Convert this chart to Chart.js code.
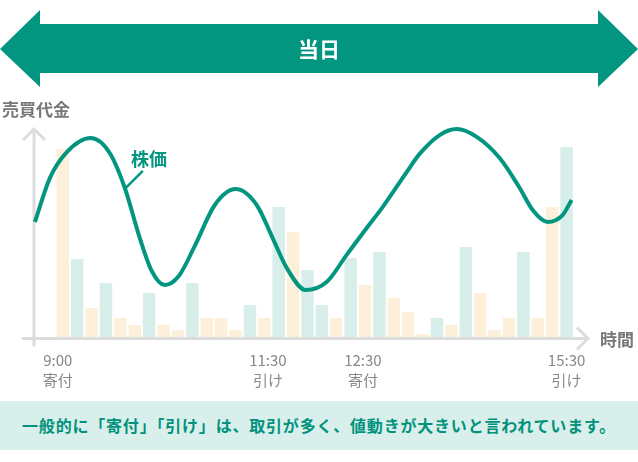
<!DOCTYPE html>
<html lang="ja">
<head>
<meta charset="utf-8">
<script src="https://cdn.jsdelivr.net/npm/chart.js@4/dist/chart.umd.min.js"></script>
<style>
html,body{margin:0;padding:0;background:#fff;}
body{width:638px;height:462px;position:relative;overflow:hidden;font-family:"Noto Sans CJK JP","Noto Sans",sans-serif;}
#c{position:absolute;left:0;top:0;}
#banner{position:absolute;left:0;top:10px;width:638px;height:77px;background:#02957f;
  clip-path:polygon(0 39px,40px 0,40px 14px,598px 14px,598px 0,638px 39px,598px 77px,598px 63px,40px 63px,40px 77px);}
#bannerText{position:absolute;left:0;top:24px;width:638px;height:49px;line-height:49px;text-align:center;color:#fff;font-weight:bold;font-size:21px;}
.lab{position:absolute;font-weight:bold;line-height:1;white-space:nowrap;}
#ylab{left:2px;top:100px;font-size:17px;color:#777;}
#xlab{left:600px;top:330px;font-size:17px;color:#777;}
#plab{left:131px;top:149px;font-size:18px;color:#02957f;}
#note{position:absolute;left:0;top:401px;width:638px;height:49px;background:#d9efeb;color:#00927c;font-size:16px;font-weight:bold;text-align:center;line-height:49px;letter-spacing:0.8px;white-space:nowrap;}
</style>
</head>
<body>
<canvas id="c" width="638" height="462"></canvas>
<div id="banner"></div>
<div id="bannerText">当日</div>
<div class="lab" id="ylab">売買代金</div>
<div class="lab" id="xlab">時間</div>
<div class="lab" id="plab">株価</div>
<div id="note">一般的に「寄付」「引け」は、取引が多く、値動きが大きいと言われています。</div>
<script>
// ---- data ----
const slots = [1,2,3,4,5,6,7,8,9,10,11,12,13,14,15,16,17,18,19,20,21,22,23,24,25,26,27,28,29,30,31,32,33,34,35,36];
const volumeOrange = [81.7,null,12.6,null,8.3,5.2,null,5.2,3.0,null,8.3,8.3,3.0,null,8.3,null,45.7,null,null,8.3,null,22.6,null,17.0,10.9,1.3,null,5.2,null,19.1,3.0,8.3,null,8.3,56.5,null];
const volumeTeal   = [null,33.9,null,23.5,null,null,19.1,null,null,23.5,null,null,null,13.9,null,56.5,null,29.1,13.9,null,34.3,null,37.0,null,null,null,8.3,null,39.1,null,null,null,37.0,null,null,82.6];
const priceX = [-0.94,0.10,1.28,2.94,4.26,5.31,6.35,7.18,8.08,9.06,10.17,11.56,13.01,14.47,15.58,16.56,17.88,19.33,20.72,22.11,23.22,24.89,25.79,27.18,28.36,29.75,31.35,32.74,33.64,34.68,35.72,36.35];
const priceY = [50.0,69.1,80.4,86.5,80.0,64.8,43.0,28.7,22.6,26.5,39.6,57.4,64.3,57.4,43.0,30.0,20.4,23.9,35.7,47.4,56.5,71.7,79.6,87.8,90.4,87.0,77.8,64.8,55.2,50.0,53.0,59.6];
const tickSlots = [0.65,15.25,21.85,36.0];
const timeLabels = ['9:00','11:30','12:30','15:30'];
const sessionLabels = ['寄付','引け','寄付','引け'];
const priceLabelAnchor = 5; // index in price series where the 株価 leader line touches

const FONT = "'Noto Sans CJK JP','Noto Sans',sans-serif";
const TEAL = '#02957f';
const AXIS = '#dcdcdc';

const axesPlugin = {
  id: 'axesArrows',
  beforeDatasetsDraw(chart) {
    const {ctx, chartArea: a} = chart;
    ctx.save();
    ctx.strokeStyle = AXIS;
    ctx.lineWidth = 3;
    ctx.lineJoin = 'miter';
    const x0 = a.left, y0 = a.bottom + 1.5;
    ctx.beginPath(); ctx.moveTo(x0, y0 + 8); ctx.lineTo(x0, 129); ctx.stroke();
    ctx.beginPath(); ctx.moveTo(x0 - 11, 140); ctx.lineTo(x0, 129); ctx.lineTo(x0 + 11, 140); ctx.stroke();
    ctx.beginPath(); ctx.moveTo(22, y0); ctx.lineTo(588, y0); ctx.stroke();
    ctx.beginPath(); ctx.moveTo(577, y0 - 11); ctx.lineTo(588, y0); ctx.lineTo(577, y0 + 11); ctx.stroke();
    ctx.restore();
  },
  afterDatasetsDraw(chart) {
    const {ctx, scales} = chart;
    const px = scales.x.getPixelForValue(priceX[priceLabelAnchor]);
    const py = scales.yPrice.getPixelForValue(priceY[priceLabelAnchor]);
    ctx.save();
    ctx.strokeStyle = TEAL;
    ctx.lineWidth = 2.5;
    ctx.beginPath(); ctx.moveTo(px + 1, py); ctx.lineTo(px + 18, py - 17); ctx.stroke();
    ctx.restore();
  }
};

new Chart(document.getElementById('c'), {
  data: {
    datasets: [
      {
        type: 'line',
        data: priceX.map((x, i) => ({x, y: priceY[i]})),
        yAxisID: 'yPrice',
        borderColor: TEAL,
        borderWidth: 4,
        pointRadius: 0,
        fill: false,
        cubicInterpolationMode: 'monotone',
        clip: false,
        order: 0
      },
      {
        type: 'bar',
        data: slots.map((x, i) => ({x, y: volumeOrange[i]})),
        yAxisID: 'y',
        backgroundColor: '#fdf0da',
        borderWidth: 0,
        grouped: false,
        categoryPercentage: 1,
        barPercentage: 0.87,
        maxBarThickness: 12.6,
        order: 1
      },
      {
        type: 'bar',
        data: slots.map((x, i) => ({x, y: volumeTeal[i]})),
        yAxisID: 'y',
        backgroundColor: '#d8eeea',
        borderWidth: 0,
        grouped: false,
        categoryPercentage: 1,
        barPercentage: 0.87,
        maxBarThickness: 12.6,
        order: 1
      }
    ]
  },
  options: {
    responsive: false,
    animation: false,
    events: [],
    layout: {padding: {left: 34, right: 57, top: 107, bottom: 58}},
    plugins: {legend: {display: false}, tooltip: {enabled: false}},
    scales: {
      x: {
        type: 'linear', min: -1, max: 37, offset: false, bounds: 'data',
        grid: {display: false, drawTicks: false, offset: false},
        border: {display: false},
        afterBuildTicks: (scale) => { scale.ticks = tickSlots.map(v => ({value: v})); },
        ticks: {
          autoSkip: false, maxRotation: 0, minRotation: 0, padding: 14,
          color: '#888',
          font: {family: FONT, size: 15, lineHeight: 1.3},
          callback: (v, i) => [timeLabels[i], sessionLabels[i]]
        }
      },
      y: {display: false, min: 0, max: 100},
      yPrice: {display: false, min: 0, max: 100}
    }
  },
  plugins: [axesPlugin]
});
</script>
</body>
</html>
